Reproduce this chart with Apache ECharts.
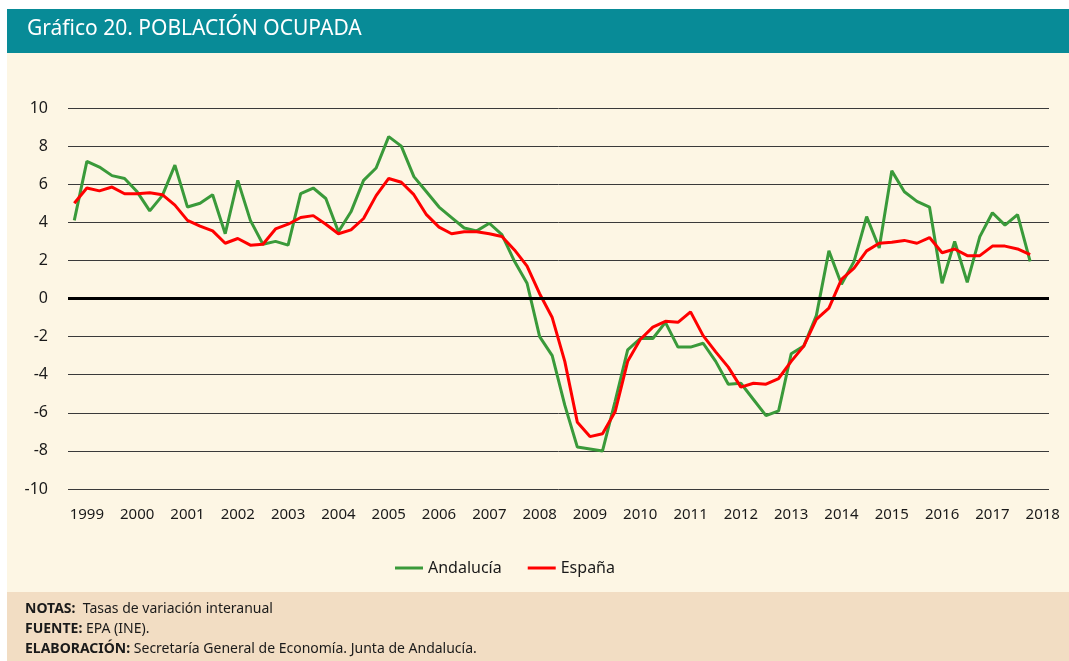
<!DOCTYPE html>
<html>
<head>
<meta charset="utf-8">
<title>Gráfico 20. Población ocupada</title>
<script src="https://cdn.jsdelivr.net/npm/echarts/dist/echarts.min.js"></script>
<style>
  html, body { margin: 0; padding: 0; background: #fff; }
  #grafico { width: 1069px; height: 661px; }
</style>
</head>
<body>
<div id="grafico"></div>
<script>
// trimestres: T1 1999 ... T2 2018 (la etiqueta del año va en el 2º trimestre)
var years = ['1999', '2000', '2001', '2002', '2003', '2004', '2005', '2006', '2007', '2008',
             '2009', '2010', '2011', '2012', '2013', '2014', '2015', '2016', '2017', '2018'];
var quarters = ['T1', 'T2', 'T3', 'T4'];

// tasas de variación interanual (%)
var andalucia = [
  4.1, 7.2, 6.9, 6.45, 6.3, 5.6, 4.6, 5.4, 7.0, 4.8, 5.0, 5.45,
  3.4, 6.2, 4.1, 2.85, 3.0, 2.8, 5.5, 5.8, 5.25, 3.5, 4.55, 6.2,
  6.85, 8.5, 8.0, 6.4, 5.6, 4.8, 4.25, 3.7, 3.55, 3.95, 3.35, 1.95,
  0.8, -2.0, -3.0, -5.6, -7.8, -7.9, -8.0, -5.4, -2.7, -2.1, -2.1, -1.25,
  -2.55, -2.55, -2.35, -3.3, -4.5, -4.45, -5.3, -6.15, -5.9, -2.9, -2.5, -0.9,
  2.5, 0.75, 1.95, 4.3, 2.65, 6.7, 5.6, 5.1, 4.8, 0.8, 3.0, 0.85,
  3.25, 4.5, 3.85, 4.4, 1.95
];
var espana = [
  5.0, 5.8, 5.65, 5.85, 5.5, 5.5, 5.55, 5.45, 4.9, 4.1, 3.8, 3.55,
  2.9, 3.15, 2.8, 2.85, 3.65, 3.9, 4.25, 4.35, 3.9, 3.4, 3.6, 4.2,
  5.4, 6.3, 6.1, 5.45, 4.4, 3.75, 3.4, 3.5, 3.5, 3.4, 3.25, 2.55,
  1.7, 0.25, -1.0, -3.3, -6.5, -7.25, -7.1, -5.95, -3.3, -2.15, -1.5, -1.2,
  -1.25, -0.7, -1.95, -2.8, -3.6, -4.65, -4.45, -4.5, -4.2, -3.3, -2.5, -1.1,
  -0.5, 1.0, 1.6, 2.5, 2.9, 2.95, 3.05, 2.9, 3.2, 2.4, 2.6, 2.25,
  2.25, 2.75, 2.75, 2.6, 2.3
];

var categories = [];
years.forEach(function (y) {
  quarters.forEach(function (q) { categories.push(q + ' ' + y); });
});
categories = categories.slice(0, 78); // hasta T2 2018

var fuente = '"Noto Sans", "Open Sans", sans-serif';

var chart = echarts.init(document.getElementById('grafico'));
chart.setOption({
  animation: false,
  backgroundColor: '#fff',
  textStyle: { fontFamily: fuente },
  graphic: [
    // fondos
    { type: 'rect', left: 7, top: 53, z: -10, shape: { width: 1062, height: 539 }, style: { fill: '#FDF6E4' } },
    { type: 'rect', left: 7, top: 592, z: -10, shape: { width: 1062, height: 69 }, style: { fill: '#F2DDC3' } },
    { type: 'rect', left: 7, top: 9, z: -10, shape: { width: 1062, height: 44 }, style: { fill: '#088B97' } },
    {
      type: 'text', left: 27, top: 19,
      style: { text: 'Gráfico 20. POBLACIÓN OCUPADA', fill: '#fff', font: '21px ' + fuente }
    },
    {
      type: 'text', left: 25, top: 599,
      style: {
        text: '{b|NOTAS:}  Tasas de variación interanual\n{b|FUENTE:} EPA (INE).\n{b|ELABORACIÓN:} Secretaría General de Economía. Junta de Andalucía.',
        fill: '#1a1a1a', font: '14px ' + fuente, lineHeight: 20,
        rich: { b: { fontWeight: 'bold', fontSize: 14, fontFamily: fuente, lineHeight: 20 } }
      }
    }
  ],
  legend: {
    left: 390, top: 555,
    icon: 'rect', itemWidth: 28, itemHeight: 3, itemGap: 26,
    textStyle: { fontSize: 16, color: '#1a1a1a', fontFamily: fuente },
    data: ['Andalucía', 'España']
  },
  grid: { left: 68, right: 20, top: 108, bottom: 172 },
  xAxis: {
    type: 'category',
    data: categories,
    boundaryGap: true,
    axisLine: { show: false },
    axisTick: { show: false },
    axisLabel: {
      interval: function (i) { return i % 4 === 1; },
      formatter: function (v) { return v.slice(-4); },
      fontSize: 15, color: '#1a1a1a', margin: 18
    }
  },
  yAxis: {
    type: 'value',
    min: -10, max: 10, interval: 2,
    axisLine: { show: false },
    axisTick: { show: false },
    axisLabel: { fontSize: 16, color: '#1a1a1a', margin: 20 },
    splitLine: { lineStyle: { color: '#3a3a3a', width: 1 } }
  },
  series: [
    {
      name: 'Andalucía', type: 'line', data: andalucia,
      symbol: 'none', color: '#3A9A3A',
      lineStyle: { width: 3, color: '#3A9A3A' },
      markLine: {
        silent: true, symbol: 'none', label: { show: false },
        lineStyle: { color: '#000', width: 3, type: 'solid' },
        data: [{ yAxis: 0 }]
      }
    },
    {
      name: 'España', type: 'line', data: espana,
      symbol: 'none', color: '#FF0000',
      lineStyle: { width: 3, color: '#FF0000' }
    }
  ]
});
</script>
</body>
</html>
